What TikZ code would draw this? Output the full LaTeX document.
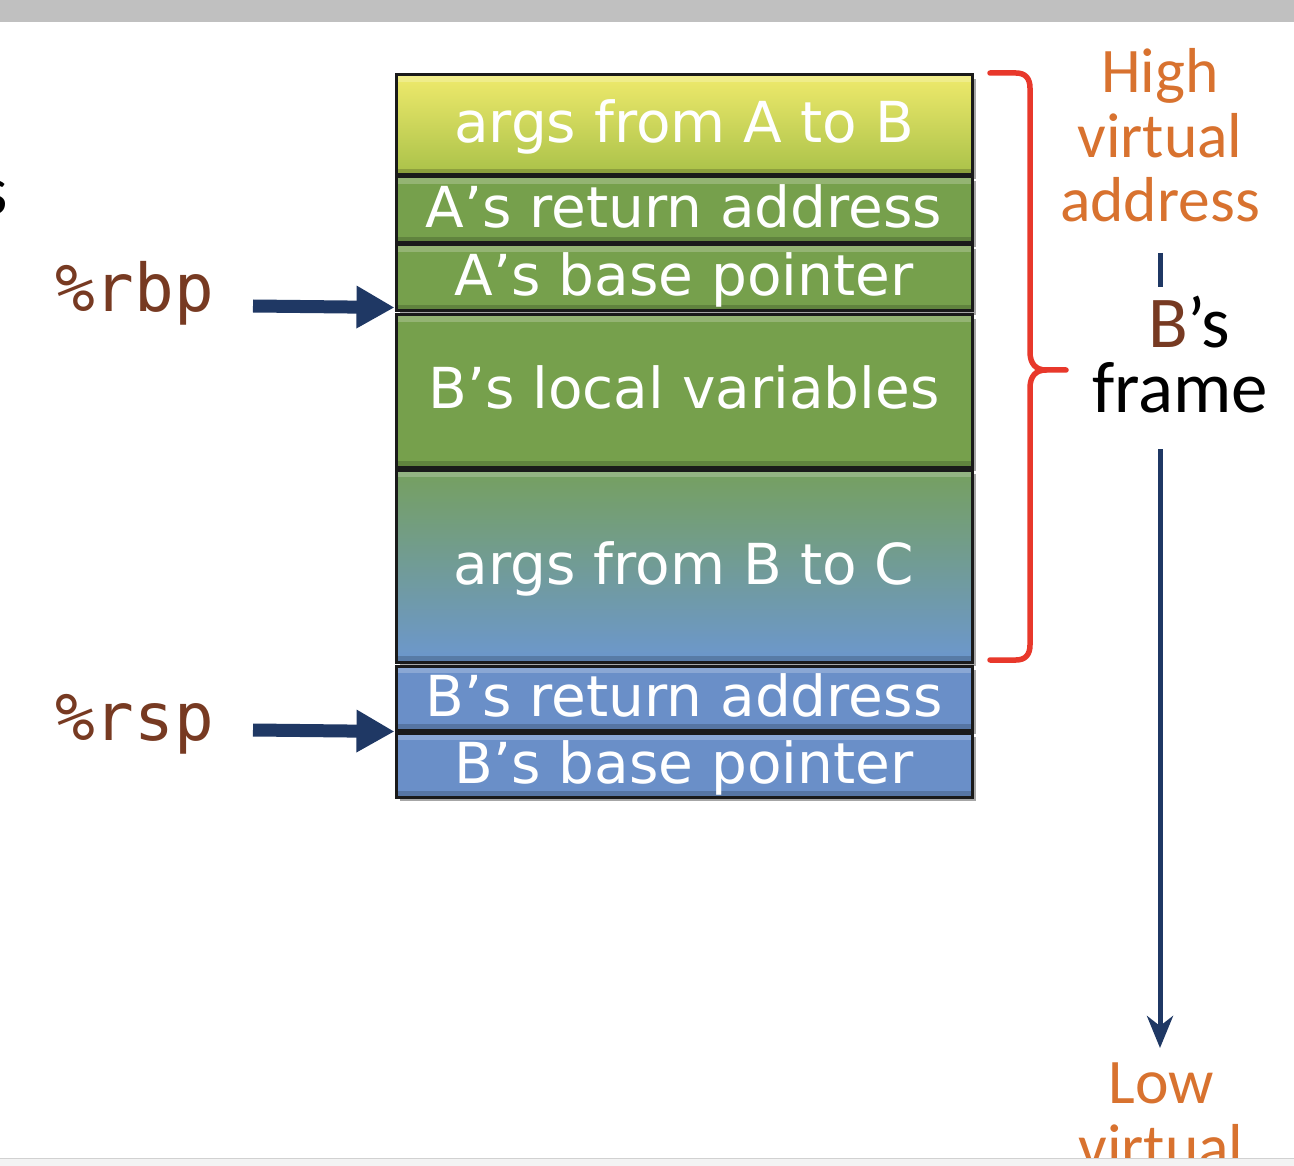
\documentclass[tikz,border=0pt]{standalone}
\usepackage{fontspec}
\setmainfont{Carlito}
\newfontfamily\monofont{DejaVu Sans Mono}
\newfontfamily\boxfont{DejaVu Sans}
\usetikzlibrary{arrows.meta,shadows}
\definecolor{yelT}{HTML}{EFEA6C}
\definecolor{yelM}{HTML}{EAE665}
\definecolor{yelB}{HTML}{A9C149}
\definecolor{sgreen}{HTML}{76A04C}
\definecolor{gbT}{HTML}{76A05F}
\definecolor{gbM}{HTML}{7399A4}
\definecolor{gbB}{HTML}{6C97CE}
\definecolor{sblue}{HTML}{6A8FC8}
\definecolor{boxedge}{HTML}{1A1A1A}
\definecolor{navy}{HTML}{1F3864}
\definecolor{regbrown}{HTML}{773A22}
\definecolor{addrorange}{HTML}{D8722F}
\definecolor{bracered}{HTML}{E8382B}
\definecolor{topbar}{HTML}{C0C0C0}
\definecolor{botstrip}{HTML}{F3F3F3}
\begin{document}
\begin{tikzpicture}[x=1pt,y=-1pt,
  stackbox/.style={draw=boxedge, line width=3pt, minimum width=576pt, inner sep=0pt,
    text=white, font=\boxfont\fontsize{56.5}{56.5}\selectfont,
    text height=36pt, text depth=0pt,
    drop shadow={shadow xshift=4pt, shadow yshift=-4pt, opacity=0.35, fill=black},
    path picture={
      \fill[white,opacity=0.22] (path picture bounding box.north west) rectangle ([yshift=-7pt]path picture bounding box.north east);
      \fill[black,opacity=0.18] (path picture bounding box.south west) rectangle ([yshift=6pt]path picture bounding box.south east);
    }},
  regtext/.style={text=regbrown, font=\monofont\fontsize{66}{66}\selectfont, inner sep=0pt},
  ptrarrow/.style={draw=navy, line width=13pt, -{Triangle[length=38pt,width=40pt]}},
  addrtext/.style={text=addrorange, font=\fontsize{63.5}{64.5}\selectfont, align=center, inner sep=0pt},
  navyline/.style={draw=navy, line width=5pt},
  brace/.style={draw=bracered, line width=5.5pt, line cap=round, line join=round}
]
\useasboundingbox (0,0) rectangle (1294,1166);
\begin{scope}
\clip (0,0) rectangle (1294,1166);
\fill[white] (0,0) rectangle (1294,1166);
\fill[topbar] (0,0) rectangle (1294,22);

% partial letter at left edge
\node[font=\fontsize{70}{70}\selectfont, anchor=base east, inner sep=0pt] (cut) at (8,215) {s};

% stack boxes
\node[stackbox, top color=yelT, middle color=yelM, bottom color=yelB, minimum height=100pt] (argsab) at (684,125) {args from A to B};
\node[stackbox, fill=sgreen, minimum height=66pt] (aret) at (684,210) {A’s return address};
\node[stackbox, fill=sgreen, minimum height=66pt] (abp) at (684,278) {A’s base pointer};
\node[stackbox, fill=sgreen, minimum height=152pt] (blocal) at (684,391) {B’s local variables};
\node[stackbox, top color=gbT, middle color=gbM, bottom color=gbB, minimum height=192pt] (argsbc) at (684,566) {args from B to C};
\node[stackbox, fill=sblue, minimum height=64pt] (bret) at (684,698) {B’s return address};
\node[stackbox, fill=sblue, minimum height=64pt] (bbp) at (684,765) {B’s base pointer};

% registers
\node[regtext, anchor=base west] (rbp) at (55,312) {\%rbp};
\node[regtext, anchor=base west] (rsp) at (55,740) {\%rsp};
\coordinate (rbpstart) at (253,306);
\coordinate (rspstart) at (253,730);
\draw[ptrarrow] (rbpstart) -- ([yshift=5pt]abp.south west);
\draw[ptrarrow] (rspstart) -- ([yshift=0pt]bret.south west);

% brace
\coordinate (bracetop) at (990,73);
\coordinate (bracebot) at (990,660);
\coordinate (bracetip) at (1066,370);
\draw[brace] (bracetop) -- (1016,73) .. controls (1025,73) and (1030,78) .. (1030,88)
  -- (1030,352) .. controls (1030,364) and (1036,370) .. (1046,370) -- (bracetip);
\draw[brace] (1046,370) .. controls (1036,370) and (1030,376) .. (1030,388)
  -- (1030,645) .. controls (1030,655) and (1025,660) .. (1016,660) -- (bracebot);

% address labels (anchor=base is the baseline of the last line)
\node[addrtext, anchor=base] (high) at (1160,222) {High\\virtual\\address};
\node[font=\fontsize{73}{65}\selectfont, align=center, inner sep=0pt, anchor=base] (frame) at (1180,413)
  {\hspace*{18pt}{\color{regbrown}B}’s\\frame};
\node[addrtext, anchor=base] (low) at (1161,1168) {Low\\virtual};

% direction line
\coordinate (vtop) at (1160,253);
\coordinate (vgap1) at (1160,287);
\coordinate (vgap2) at (1160,449);
\coordinate (vend) at (1160,1048);
\draw[navyline] (vtop) -- (vgap1);
\draw[navyline, -{Stealth[length=32pt,width=26pt,inset=10pt]}] (vgap2) -- (vend);

% bottom strip
\fill[botstrip] (0,1158) rectangle (1294,1166);
\draw[black!18, line width=1pt] (0,1158) -- (1294,1158);
\end{scope}
\end{tikzpicture}
\end{document}
